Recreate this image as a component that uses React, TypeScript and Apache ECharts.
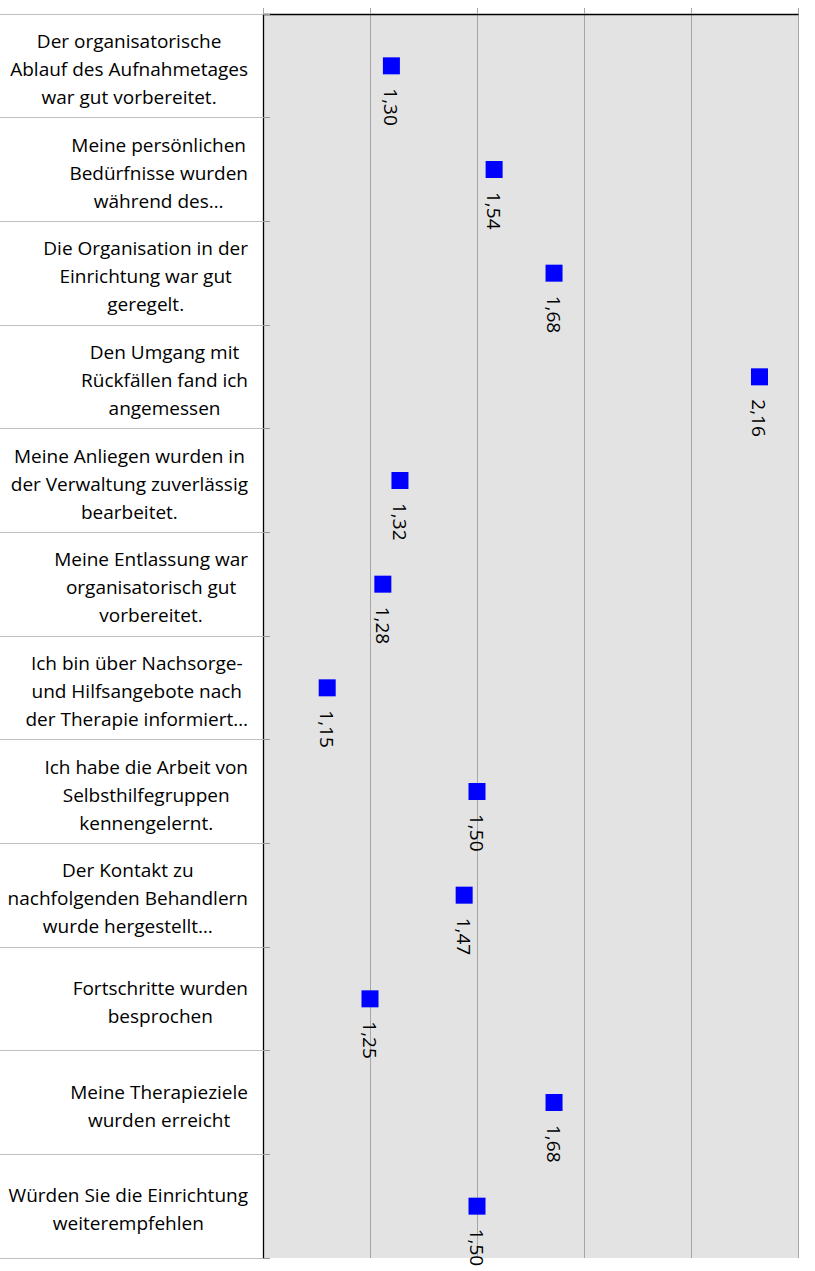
import React, { useEffect, useRef } from "react";
import * as echarts from "echarts";

const categories: string[] = [
  "Der organisatorische\nAblauf des Aufnahmetages\nwar gut vorbereitet.",
  "Meine persönlichen\nBedürfnisse wurden\nwährend des…",
  "Die Organisation in der\nEinrichtung war gut\ngeregelt.",
  "Den Umgang mit\nRückfällen fand ich\nangemessen",
  "Meine Anliegen wurden in\nder Verwaltung zuverlässig\nbearbeitet.",
  "Meine Entlassung war\norganisatorisch gut\nvorbereitet.",
  "Ich bin über Nachsorge-\nund Hilfsangebote nach\nder Therapie informiert…",
  "Ich habe die Arbeit von\nSelbsthilfegruppen\nkennengelernt.",
  "Der Kontakt zu\nnachfolgenden Behandlern\nwurde hergestellt…",
  "Fortschritte wurden\nbesprochen",
  "Meine Therapieziele\nwurden erreicht",
  "Würden Sie die Einrichtung\nweiterempfehlen",
];

const values: number[] = [1.3, 1.54, 1.68, 2.16, 1.32, 1.28, 1.15, 1.5, 1.47, 1.25, 1.68, 1.5];

const axisMin = 1;
const axisMax = 2.25;
const axisInterval = 0.25;

const FONT = "'Open Sans', 'Noto Sans', sans-serif";

export default function App() {
  const ref = useRef<HTMLDivElement>(null);
  useEffect(() => {
    if (!ref.current) return;
    const chart = echarts.init(ref.current, undefined, { renderer: "svg" });
    chart.setOption({
      animation: false,
      backgroundColor: "#ffffff",
      grid: {
        left: 263,
        right: 17,
        top: 14,
        bottom: 13,
        show: true,
        backgroundColor: "#e3e3e3",
        borderWidth: 0,
      },
      xAxis: {
        type: "value",
        position: "top",
        min: axisMin,
        max: axisMax,
        interval: axisInterval,
        axisLine: { show: true, lineStyle: { color: "#000000", width: 1.3 } },
        axisTick: { show: true, length: 6, lineStyle: { color: "#a6a6a6" } },
        axisLabel: { show: false },
        splitLine: { show: true, lineStyle: { color: "#a6a6a6", width: 1 } },
      },
      yAxis: [
        {
          type: "category",
          data: categories,
          inverse: true,
          position: "left",
          axisLine: { show: true, onZero: false, lineStyle: { color: "#000000", width: 1.3 } },
          axisTick: { show: true, length: 263, lineStyle: { color: "#bfbfbf" } },
          splitLine: { show: false },
          axisLabel: {
            margin: 15,
            padding: [6, 0, 0, 0],
            formatter: (v: string) =>
              v
                .split("\n")
                .map((l) => `{c|${l}}`)
                .join("\n"),
            rich: {
              c: {
                align: "center",
                fontSize: 19,
                lineHeight: 28,
                fontFamily: FONT,
                color: "#000000",
              },
            },
          },
        },
        {
          type: "category",
          data: categories,
          inverse: true,
          position: "left",
          axisLine: { show: false },
          axisTick: { show: true, inside: true, length: 7, lineStyle: { color: "#999999" } },
          axisLabel: { show: false },
          splitLine: { show: false },
        },
      ],
      series: [
        {
          type: "scatter",
          symbol: "rect",
          symbolSize: 17,
          itemStyle: { color: "#0000ff", opacity: 1 },
          data: values.map((v, i) => [v, categories[i]]),
          label: {
            show: true,
            position: "bottom",
            distance: 14,
            rotate: -90,
            align: "left",
            verticalAlign: "middle",
            fontSize: 19,
            fontFamily: FONT,
            color: "#000000",
            formatter: (p: any) => p.value[0].toFixed(2).replace(".", ","),
          },
        },
      ],
    });
    return () => chart.dispose();
  }, []);
  return (
    <div
      ref={ref}
      style={{ position: "absolute", left: 0, top: 0, width: 815, height: 1271 }}
    />
  );
}
